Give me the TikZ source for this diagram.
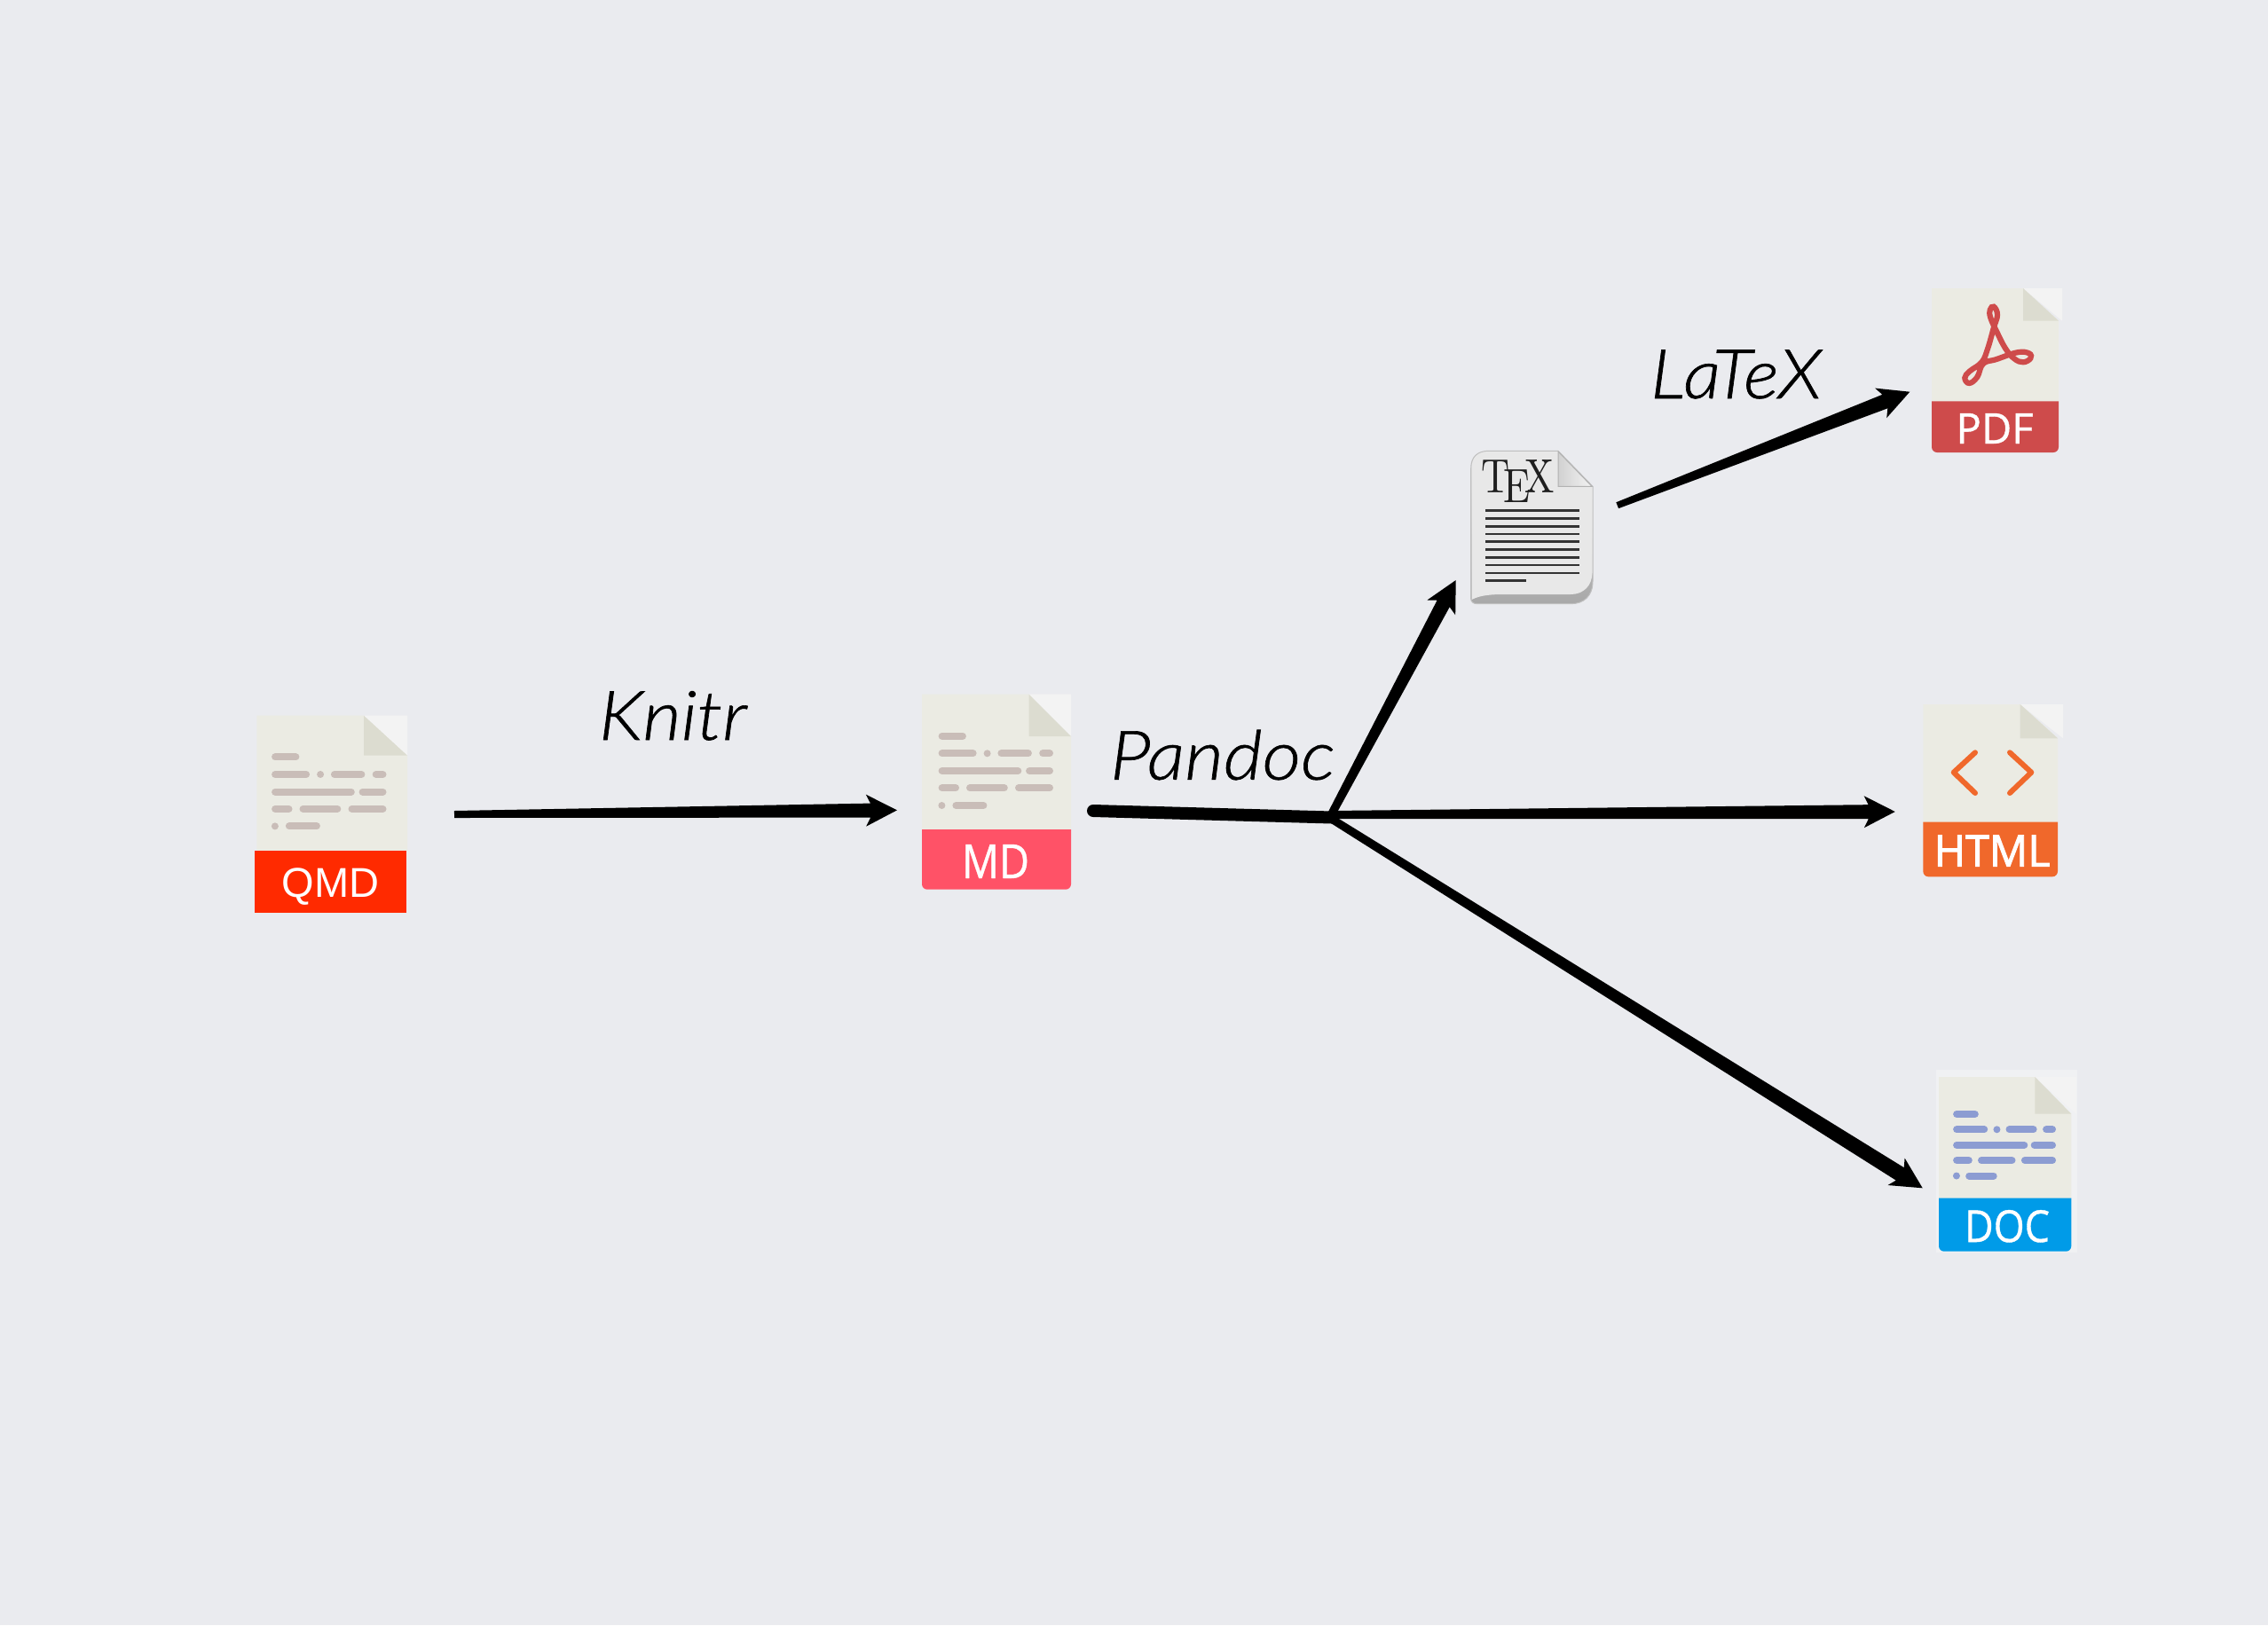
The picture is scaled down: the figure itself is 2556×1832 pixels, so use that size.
\documentclass[tikz,border=0pt]{standalone}
\usepackage{fontspec}
\usepackage{graphicx}
\usetikzlibrary{calc}
\newfontfamily\labelfont[FakeBold=0.8]{Lato Light Italic}
\newfontfamily\arialfont{Liberation Sans}
\newfontfamily\bandfont[FakeBold=0.8]{Open Sans}
\newfontfamily\htmlfont[FakeBold=2]{Open Sans}
\definecolor{bgcol}{HTML}{EAEBEF}
\definecolor{sheetcol}{HTML}{EBEBE3}
\definecolor{foldcol}{HTML}{DCDCD0}
\definecolor{patchcol}{HTML}{F3F3F3}
\definecolor{rowcol}{HTML}{C9BDB8}
\definecolor{rowblue}{HTML}{8C9CD2}
\definecolor{qmdcol}{HTML}{FF2A00}
\definecolor{mdcol}{HTML}{FF5267}
\definecolor{pdfcol}{HTML}{CE4B4B}
\definecolor{htmlcol}{HTML}{F0682B}
\definecolor{doccol}{HTML}{009BE8}
\definecolor{boxcol}{HTML}{F0F1F3}
\tikzset{
  iconbox/.style={inner sep=0pt,outer sep=0pt},
  labeltext/.style={inner sep=0pt,outer sep=0pt,anchor=base west,font=\labelfont\fontsize{77}{80}\selectfont},
  bandtext/.style={inner sep=0pt,outer sep=0pt,anchor=center,text=white},
  rowline/.style={line width=8pt,line cap=round},
  texrule/.style={line width=2.8pt,draw={rgb:black,4;white,1}},
  stem/.style={line width=14pt,line cap=round,draw=black}
}
% L,T,R,foldx,foldy,bottom,patchR
\newcommand{\docsheet}[7]{%
  \fill[sheetcol] (#1,#2) -- (#4,#2) -- (#3,#5) -- (#3,#6) -- (#1,#6) -- cycle;
  \fill[patchcol] (#4,#2) -- (#7,#2) -- (#7,#5) -- cycle;
  \fill[foldcol] (#4,#2) -- (#3,#5) -- (#4,#5) -- cycle;
}
% L,T,sx,sy,colour
\newcommand{\textrows}[5]{%
  \begin{scope}[shift={(#1,#2)},x=#3pt,y=-#4pt,draw=#5,fill=#5]
    \draw[rowline] (22.6,47) -- (45.9,47);
    \draw[rowline] (22.6,66.6) -- (57.6,66.6);
    \fill (73.6,66.6) circle[radius=4pt];
    \draw[rowline] (89.4,66.6) -- (119.9,66.6);
    \draw[rowline] (136.2,66.6) -- (144,66.6);
    \draw[rowline] (22.6,86.3) -- (108.3,86.3);
    \draw[rowline] (121.1,86.3) -- (144,86.3);
    \draw[rowline] (22.6,105.6) -- (38,105.6);
    \draw[rowline] (54,105.6) -- (92.8,105.6);
    \draw[rowline] (109,105.6) -- (144,105.6);
    \fill (22.4,125.3) circle[radius=4pt];
    \draw[rowline] (38.4,125.3) -- (69.4,125.3);
  \end{scope}
}
% start, tip, half width at start, half width at head
\newcommand{\taper}[4]{%
  \coordinate (headback) at ($(#2)!35pt!(#1)$);
  \coordinate (headneck) at ($(#2)!30pt!(#1)$);
  \fill[black] ($(#1)!#3!90:(#2)$) -- ($(headneck)!#4!90:(#2)$) -- ($(headback)!18pt!90:(#2)$)
    -- (#2) -- ($(headback)!18pt!-90:(#2)$) -- ($(headneck)!#4!-90:(#2)$) -- ($(#1)!#3!-90:(#2)$) -- cycle;
}
\begin{document}
\begin{tikzpicture}[x=1pt,y=-1pt]
\useasboundingbox (0,0) rectangle (2556,1832);
\fill[bgcol] (0,0) rectangle (2556,1832);

% QMD
\docsheet{289.3}{806.7}{459}{410}{851.7}{960}{459}
\textrows{287.5}{806.7}{1.0}{0.995}{rowcol}
\fill[qmdcol] (287,958.7) rectangle (458,1028.7);
\node[bandtext,anchor=base] (qmd) at (372.7,1011.2) {\arialfont\fontsize{47}{50}\selectfont QMD};

% MD
\docsheet{1039}{782.7}{1207}{1159.5}{830}{936}{1207}
\textrows{1039}{782.7}{1.0}{1.0}{rowcol}
\fill[mdcol] (1039,935) -- (1207,935) [rounded corners=6pt] -- (1207,1002.7) -- (1039,1002.7) [sharp corners] -- cycle;
\node[bandtext] (md) at (1122,971) {\resizebox{76pt}{38pt}{\bandfont\fontsize{50}{50}\selectfont MD}};

% TeX
\draw[draw=black!25,line width=1pt,top color=black!15,bottom color=black!34]
  (1657.7,675) -- (1657.7,528) .. controls (1657.7,515) and (1665,508.3) .. (1678,508.3) -- (1756,508.3)
  -- (1795,548.3) -- (1795,655) .. controls (1795,672) and (1785,680.7) .. (1770,680.7) -- (1665,680.7)
  .. controls (1660,680.7) and (1657.7,678) .. (1657.7,675) -- cycle;
\fill[black!9] (1658.5,676) .. controls (1668,671) and (1680,670) .. (1695,670) -- (1770,670)
  .. controls (1785,670) and (1794,660) .. (1794.5,646) -- (1794.5,548.8) -- (1756,509) -- (1678,509)
  .. controls (1665.5,509) and (1658.5,515.5) .. (1658.5,528) -- cycle;
\draw[draw=black!30,line width=1pt,left color=black!18,right color=black!5]
  (1756,509) -- (1756,548.3) -- (1794,548.3) -- cycle;
\node[iconbox,anchor=north west,text=black!88] (tex) at (1669.3,518.3) {\resizebox{83pt}{37pt}{\TeX}};
\foreach \yy in {575.3,584.3,593.3,602,610.7,619.3,628.3,637,646}
  \draw[texrule] (1674,\yy) -- (1780,\yy);
\draw[texrule] (1674,654.7) -- (1720,654.7);

% PDF
\docsheet{2177}{325}{2320}{2280}{361.7}{454}{2324}
\fill[pdfcol] (2177,452.3) -- (2320,452.3) [rounded corners=6pt] -- (2320,510) -- (2177,510) [sharp corners] -- cycle;
\draw[pdfcol,line width=6.2pt] plot[smooth cycle,tension=0.7] coordinates {
 (2247,345.7) (2251,355) (2246.7,370) (2240,393.3) (2233.3,408.3) (2220,418.3) (2214.3,426) (2219.3,432)
 (2228.3,425) (2235,410) (2250,405) (2273.3,397.3) (2286.7,398.3) (2288.3,404) (2280,408.3) (2270,404.3)
 (2260,392.7) (2250,373.3) (2243.3,358.3) (2242.7,349.3)};
\node[bandtext] (pdf) at (2248,483) {\resizebox{87pt}{34pt}{\bandfont\fontsize{50}{50}\selectfont PDF}};

% HTML
\docsheet{2167.3}{794}{2319}{2276.7}{832.3}{928}{2325}
\fill[htmlcol] (2167.3,926.7) -- (2319,926.7) [rounded corners=6pt] -- (2319,988.3) -- (2167.3,988.3) [sharp corners] -- cycle;
\draw[htmlcol,line width=6pt,line cap=round,line join=round] (2226,848.3) -- (2201.7,870.7) -- (2226,894);
\draw[htmlcol,line width=6pt,line cap=round,line join=round] (2265,848.3) -- (2289.3,870.7) -- (2265,894);
\node[bandtext] (html) at (2245,959.2) {\resizebox{131pt}{35pt}{\htmlfont\fontsize{50}{50}\selectfont HTML}};

% DOC
\fill[boxcol] (2182.3,1206) rectangle (2341,1411.7);
\docsheet{2185}{1214}{2334.3}{2293.3}{1255.7}{1352}{2340}
\textrows{2185}{1214}{0.889}{0.89}{rowblue}
\fill[doccol] (2185,1350.7) -- (2334.3,1350.7) [rounded corners=6pt] -- (2334.3,1410.7) -- (2185,1410.7) [sharp corners] -- cycle;
\node[bandtext] (doc) at (2262,1382.3) {\resizebox{96pt}{36pt}{\bandfont\fontsize{50}{50}\selectfont DOC}};

% connector ends
\coordinate (knitrstart) at (512,918);
\coordinate (knitrend) at (1011,913.3);
\coordinate (pandocstart) at (1232,914);
\coordinate (hub) at (1501,921.5);
\coordinate (texbranch) at (1500,919);
\coordinate (texend) at (1640.7,654);
\coordinate (htmlbranch) at (1500,918.5);
\coordinate (htmlend) at (2135.7,915);
\coordinate (docbranch) at (1502,924);
\coordinate (docend) at (2166.7,1339.3);
\coordinate (latexstart) at (1822.7,569.7);
\coordinate (latexend) at (2152.3,441.7);

\taper{knitrstart}{knitrend}{4pt}{8pt}
\taper{texbranch}{texend}{4.5pt}{8pt}
\taper{htmlbranch}{htmlend}{4.5pt}{8pt}
\taper{docbranch}{docend}{4.5pt}{8.5pt}
\taper{latexstart}{latexend}{3.7pt}{8.3pt}
\draw[stem] (pandocstart) -- (hub);

% labels
\node[labeltext] (knitr) at (675,834) {\scalebox{1.09}[1]{Knitr}};
\node[labeltext] (pandoc) at (1251,878.8) {\scalebox{1.10}[1]{Pandoc}};
\node[labeltext] (latex) at (1860,449) {\scalebox{1.09}[1]{LaTeX}};
\end{tikzpicture}
\end{document}
